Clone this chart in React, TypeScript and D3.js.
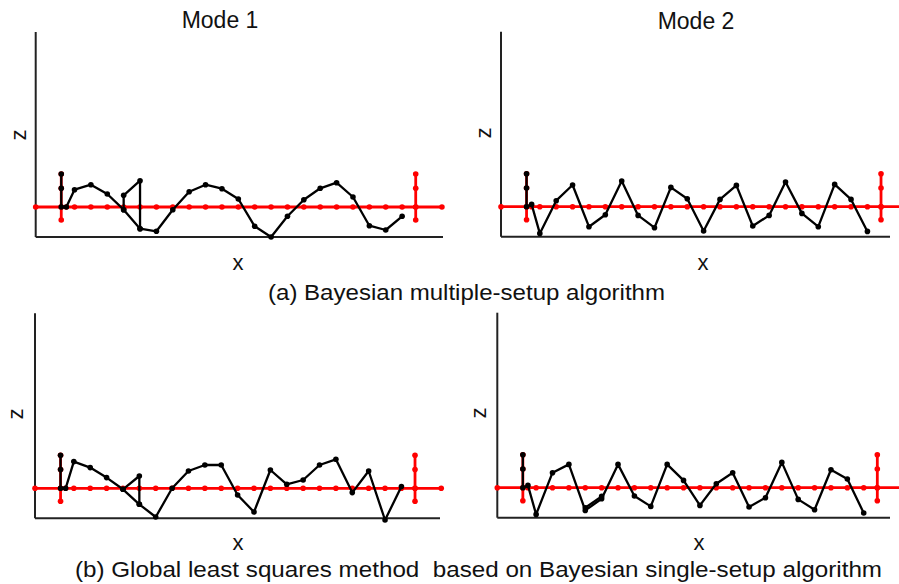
import React from "react";
import * as d3 from "d3";

// Deck node stations (node index along the span)
const deckStations = [0, 1, 2, 3, 4, 5, 6, 7, 8, 9, 10, 11, 12, 13, 14, 15, 16, 17, 18, 19, 20];
const leftSupportStation = -0.81;
const rightSupportStation = 20.83;
const transitionStation = -0.5;
const supportHeights = [3.3, 1.87, 0, -1.3];
const supportMoved = [3.3, 1.87, 0];

// Identified vertical mode shape ordinates at the deck nodes
const mode1Multi = [1.73, 2.23, 1.3, -0.27, -2.17, -2.43, -0.27, 1.53, 2.23, 1.83, 0.8, -1.93, -3.0, -0.93, 0.73, 1.87, 2.43, 1.0, -1.87, -2.3, -0.93];
const mode2Multi = [-2.67, 0.6, 2.17, -2.0, -0.8, 2.57, -0.87, -2.1, 1.93, 0.8, -2.43, 0.73, 2.13, -1.93, -0.87, 2.47, -0.67, -2.0, 2.23, 0.73, -2.47];
const mode1Global = [2.67, 2.07, 1.07, -0.1, -1.6, -2.87, 0, 1.73, 2.33, 2.33, -0.67, -2.37, 1.83, 0.4, 0.83, 2.33, 2.9, -0.43, 1.73, -3.17, 0.17];
const mode2Global = [-2.67, 1.5, 2.33, -2.27, -1.1, 2.33, -0.83, -1.87, 2.33, 0.73, -1.77, 0.4, 1.5, -1.93, -1.0, 2.53, -1.17, -2.2, 1.8, 0.87, -2.53];

// Transition node ordinates
const transitionZ = [0, 0.23, 0, 0.23];

// Duplicate estimates at overlapping setup nodes: [station, z]
const mode1MultiOverlap: [number, number][] = [[3, -0.27], [3, 1.17], [4, 2.63], [4, -2.17]];
const mode2MultiOverlap: [number, number][] = [];
const mode1GlobalOverlap: [number, number][] = [[3, -0.1], [4, 1.23], [4, -1.6]];
const mode2GlobalOverlap: [number, number][] = [[3, -2.0], [4, -0.87]];

const titles = ["Mode 1", "Mode 2"];
const captions = [
  "(a) Bayesian multiple-setup algorithm",
  "(b) Global least squares method  based on Bayesian single-setup algorithm",
];

const FONT = "'Liberation Sans', Arial, Helvetica, sans-serif";

type PanelProps = {
  x0: number;
  xEnd: number;
  bottom: number;
  values: number[];
  tz: number;
  overlap: [number, number][];
  zLabel: [number, number];
  xLabel: [number, number];
};

function Panel({ x0, xEnd, bottom, values, tz, overlap, zLabel, xLabel }: PanelProps) {
  const spacing = 16.38;
  const x = d3.scaleLinear().domain([-2.37, 22.43]).range([x0, x0 + 24.8 * spacing]);
  const y = d3.scaleLinear().domain([-3, 17.5]).range([bottom, bottom - 205]);
  const line = d3
    .line<[number, number]>()
    .x((d) => x(d[0]))
    .y((d) => y(d[1]));

  const redNodes: [number, number][] = [
    [-2.37, 0],
    [leftSupportStation, 0],
    [transitionStation, 0],
    ...deckStations.map((s) => [s, 0] as [number, number]),
    [rightSupportStation, 0],
    [22.43, 0],
  ];
  const leftSup: [number, number][] = supportHeights.map((h) => [leftSupportStation, h]);
  const rightSup: [number, number][] = supportHeights.map((h) => [rightSupportStation, h]);

  const modeNodes: [number, number][] = [
    ...supportMoved.map((h) => [leftSupportStation, h] as [number, number]),
    [transitionStation, tz],
    ...deckStations.map((s, i) => [s, values[i]] as [number, number]),
  ];

  const red = "#ff0000";
  return (
    <g>
      {/* axes */}
      <line x1={x0} x2={x0} y1={bottom - 205} y2={bottom} stroke="#222" strokeWidth={2} />
      <line x1={x0} x2={xEnd} y1={bottom} y2={bottom} stroke="#222" strokeWidth={2} />
      {/* undeformed structure */}
      <path d={line(redNodes) || ""} stroke={red} strokeWidth={2.8} fill="none" />
      <path d={line(leftSup) || ""} stroke={red} strokeWidth={2.8} fill="none" />
      <path d={line(rightSup) || ""} stroke={red} strokeWidth={2.8} fill="none" />
      {[...redNodes, ...leftSup, ...rightSup].map((d, i) => (
        <circle key={"r" + i} cx={x(d[0])} cy={y(d[1])} r={2.8} fill={red} />
      ))}
      {/* mode shape */}
      <path d={line(modeNodes) || ""} stroke="#000" strokeWidth={2.3} fill="none" strokeLinejoin="round" />
      {overlap.length > 0 && (
        <path d={line(overlap) || ""} stroke="#000" strokeWidth={2.3} fill="none" strokeLinejoin="round" />
      )}
      {[...modeNodes, ...overlap].map((d, i) => (
        <circle key={"b" + i} cx={x(d[0])} cy={y(d[1])} r={2.8} fill="#000" />
      ))}
      <text
        x={zLabel[0]}
        y={zLabel[1]}
        transform={`rotate(-90 ${zLabel[0]} ${zLabel[1]})`}
        textAnchor="middle"
        dominantBaseline="central"
        fontFamily={FONT}
        fontSize={22}
        fill="#111"
      >
        z
      </text>
      <text x={xLabel[0]} y={xLabel[1]} textAnchor="middle" fontFamily={FONT} fontSize={22} fill="#111">
        x
      </text>
    </g>
  );
}

export default function App() {
  return (
    <div style={{ position: "absolute", left: 0, top: 0 }}>
      <svg width={899} height={584} style={{ display: "block", background: "#fff" }}>
        <rect width={899} height={584} fill="#fff" />
        <text x={220} y={28} textAnchor="middle" fontFamily={FONT} fontSize={23} fill="#111">
          {titles[0]}
        </text>
        <text x={696} y={29} textAnchor="middle" fontFamily={FONT} fontSize={23} fill="#111">
          {titles[1]}
        </text>
        <Panel x0={35.7} xEnd={443} bottom={237} values={mode1Multi} tz={transitionZ[0]} overlap={mode1MultiOverlap} zLabel={[18, 135]} xLabel={[238, 270]} />
        <Panel x0={501} xEnd={890} bottom={236.7} values={mode2Multi} tz={transitionZ[1]} overlap={mode2MultiOverlap} zLabel={[483, 133]} xLabel={[703, 270]} />
        <Panel x0={35} xEnd={440} bottom={518.3} values={mode1Global} tz={transitionZ[2]} overlap={mode1GlobalOverlap} zLabel={[15, 414]} xLabel={[238, 550]} />
        <Panel x0={497.3} xEnd={890} bottom={517.7} values={mode2Global} tz={transitionZ[3]} overlap={mode2GlobalOverlap} zLabel={[478, 413]} xLabel={[699, 550]} />
        <text x={466.5} y={300} textAnchor="middle" fontFamily={FONT} fontSize={22} textLength={397} lengthAdjust="spacingAndGlyphs" fill="#111">
          {captions[0]}
        </text>
        <text x={478.5} y={577} textAnchor="middle" fontFamily={FONT} fontSize={22} textLength={807} lengthAdjust="spacingAndGlyphs" fill="#111" style={{ whiteSpace: "pre" }}>
          {captions[1]}
        </text>
      </svg>
    </div>
  );
}
